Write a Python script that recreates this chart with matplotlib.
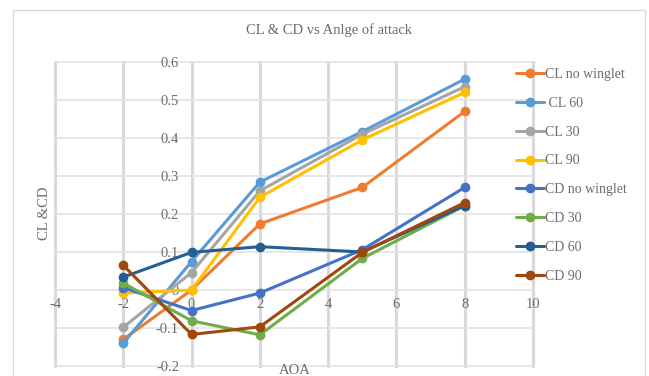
import matplotlib
matplotlib.use("Agg")
import matplotlib.pyplot as plt
import matplotlib.patches as patches

plt.rcParams['font.family'] = ['Liberation Serif', 'DejaVu Serif']

# angle of attack (deg)
aoa = [-2, 0, 2, 5, 8]

cl_no_winglet = [-0.13, 0.0, 0.174, 0.27, 0.47]
cl_60 = [-0.14, 0.075, 0.284, 0.417, 0.555]
cl_30 = [-0.098, 0.046, 0.261, 0.41, 0.535]
cl_90 = [-0.008, 0.0, 0.244, 0.395, 0.52]
cd_no_winglet = [0.006, -0.054, -0.008, 0.106, 0.27]
cd_30 = [0.018, -0.081, -0.118, 0.083, 0.222]
cd_60 = [0.034, 0.099, 0.114, 0.1, 0.222]
cd_90 = [0.065, -0.117, -0.097, 0.099, 0.23]

series = [
    ("CL no winglet", cl_no_winglet, "#ED7D31"),
    (" CL 60", cl_60, "#5B9BD5"),
    ("CL 30", cl_30, "#A5A5A5"),
    ("CL 90", cl_90, "#FFC000"),
    ("CD no winglet", cd_no_winglet, "#4472C4"),
    ("CD 30", cd_30, "#70AD47"),
    ("CD 60", cd_60, "#255E91"),
    ("CD 90", cd_90, "#9E480E"),
]

x_ticks = [-4, -2, 0, 2, 4, 6, 8, 10]
y_ticks = [-0.2, -0.1, 0, 0.1, 0.2, 0.3, 0.4, 0.5, 0.6]

W, H = 649, 376
fig = plt.figure(figsize=(W / 100, H / 100), dpi=100)
ax = fig.add_axes([55 / W, 1 - 366 / H, (533 - 55) / W, (366 - 62) / H])

txt = '#6b6b6b'
grid_c = '#d9d9d9'

# chart area border
fig.patches.append(patches.Rectangle((12.5 / W, -0.05), (645 - 12.5) / W, 1.05 - 9.5 / H,
                                     transform=fig.transFigure, fill=False,
                                     edgecolor=grid_c, linewidth=1))

for name, vals, col in series:
    ax.plot(aoa, vals, color=col, lw=2.2, marker='o', markersize=6, label=name,
            solid_capstyle='round', zorder=3)

ax.set_xlim(-4, 10)
ax.set_ylim(-0.2, 0.6)
ax.set_xticks(x_ticks)
ax.set_yticks(y_ticks)
ax.set_xticklabels([str(t) for t in x_ticks])
ax.set_yticklabels(['{:g}'.format(t) for t in y_ticks])

# axes cross at the origin, Excel style
ax.spines['left'].set_position(('data', 0))
ax.spines['bottom'].set_position(('data', 0))
for s in ax.spines.values():
    s.set_visible(False)
ax.tick_params(axis='both', length=0, labelsize=10.5, labelcolor=txt)
ax.tick_params(axis='y', pad=9)
ax.tick_params(axis='x', pad=6)

ax.grid(axis='x', color=grid_c, lw=2.2)
ax.grid(axis='y', color='#e3e3e3', lw=1.2)
for gl in ax.get_xgridlines() + ax.get_ygridlines():
    gl.set_clip_on(False)
ax.set_axisbelow(True)

fig.text(329 / W, 1 - 30 / H, "CL & CD vs Anlge of attack", ha='center', va='center',
         fontsize=10.5, color=txt)
fig.text(45 / W, 1 - 213 / H, "CL &CD", ha='center', va='center', rotation=90,
         fontsize=10.5, color=txt)
fig.text(295 / W, 1 - 374 / H, "AOA", ha='center', va='baseline', fontsize=10.5, color=txt)

ax.legend(loc='upper left', bbox_to_anchor=(516 / W, 1 - 68 / H),
          bbox_transform=fig.transFigure, frameon=False, fontsize=10,
          labelspacing=1.14, handlelength=2.0, handletextpad=0.1,
          borderpad=0, borderaxespad=0, labelcolor=txt)

fig.savefig('out.png', dpi=100)
